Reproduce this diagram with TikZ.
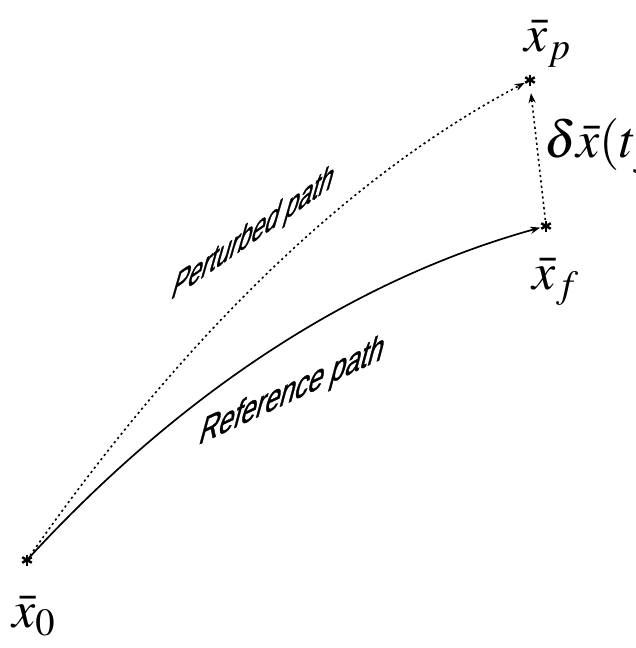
\documentclass[tikz,border=0pt]{standalone}
\usepackage{mathptmx}
\usepackage[no-math]{fontspec}
\newfontfamily\pathfont[FakeBold=1.2]{Liberation Sans}
\usetikzlibrary{arrows.meta,calc}

\begin{document}
\begin{tikzpicture}[x=0.5pt,y=-0.5pt,>={Stealth[length=5pt,width=3.6pt]},line join=round,
    ptlabel/.style={inner sep=0pt,font=\fontsize{26}{30}\selectfont},
    pathlabel/.style={inner sep=0pt,font=\pathfont\fontsize{14.8}{17}\selectfont},
    refpath/.style={line width=0.85pt},
    pertpath/.style={line width=0.8pt,dash pattern=on 1.1pt off 1.6pt}]
  \useasboundingbox (0,0) rectangle (636,648);
  % end points of the two paths
  \coordinate (x0) at (27,560);
  \coordinate (xf) at (546,226);
  \coordinate (xp) at (530,80);
  \coordinate (dtip) at (531,93);
  \foreach \p in {x0,xf,xp}
    \foreach \a in {90,30,-30}
      \draw[line width=1.25pt] ($(\p)+(\a:5.5)$) -- ($(\p)+(\a+180:5.5)$);
  % point labels
  \node[ptlabel] (x0lbl) at (34,616) {$\bar{x}_0$};
  \node[ptlabel] (xflbl) at (556,282) {$\bar{x}_f$};
  \node[ptlabel] (xplbl) at (548,44) {$\bar{x}_p$};
  \node[ptlabel,anchor=west] (dlbl) at (544,146) {$\delta\bar{x}(t_f)$};
  % paths
  \draw[refpath,->,shorten >=3pt] (x0) .. controls (182,391) and (355,279) .. (xf);
  \draw[pertpath,->,shorten >=3pt] (x0) .. controls (184,335) and (350,175) .. (xp);
  \draw[pertpath,->,shorten <=3pt] (xf) -- (dtip);
  % skewed path labels
  \node[pathlabel,cm={0.819,0.574,0.386,1.346,(0,0)}] (pertlbl) at (253,234) {Perturbed path};
  \node[pathlabel,cm={0.906,0.423,0.362,1.352,(0,0)}] (reflbl) at (292,392) {Reference path};
\end{tikzpicture}
\end{document}
